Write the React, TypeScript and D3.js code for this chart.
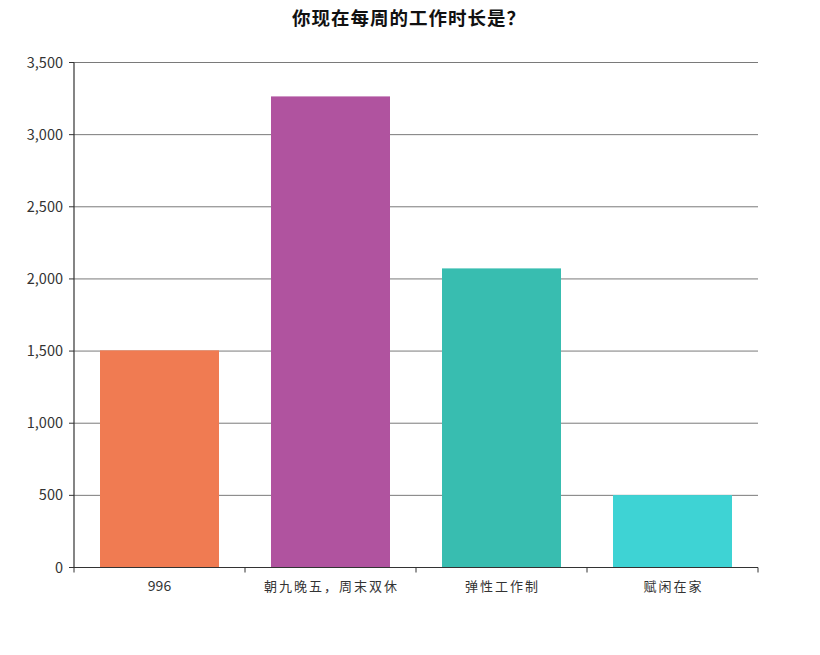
import React from "react";
import * as d3 from "d3";

const categories = ["996", "朝九晚五，周末双休", "弹性工作制", "赋闲在家"];
const values = [1505, 3265, 2073, 502];
const colors = ["#F07B52", "#B0539F", "#38BDB0", "#3ED3D4"];
const yTicks = [0, 500, 1000, 1500, 2000, 2500, 3000, 3500];
const title = "你现在每周的工作时长是？";

export default function App() {
  const W = 820, H = 655;
  const left = 74, right = 758, top = 62.5, bottom = 567.5;
  const x = d3.scaleBand<string>().domain(categories).range([left, right]).paddingInner(0.3).paddingOuter(0.15);
  const y = d3.scaleLinear().domain([0, 3500]).range([bottom, top]);
  const fmt = d3.format(",");
  const font = "'Noto Sans CJK SC', 'Noto Sans', sans-serif";
  const step = (right - left) / categories.length;
  return (
    <svg width={W} height={H} style={{ position: "absolute", left: 0, top: 0, background: "#fff" }} fontFamily={font}>
      <text x={409} y={25} textAnchor="middle" fontSize={18.5} fontWeight="bold" letterSpacing={1} fill="#111">{title}</text>
      {yTicks.map((t) => (
        <g key={t}>
          {t > 0 && <line x1={left} x2={right} y1={y(t)} y2={y(t)} stroke="#7a7a7a" strokeWidth={1} />}
          <line x1={left - 5} x2={left} y1={y(t)} y2={y(t)} stroke="#333" strokeWidth={1} />
          <text x={left - 11} y={y(t)} dy="0.35em" textAnchor="end" fontSize={14.5} fill="#333">{fmt(t)}</text>
        </g>
      ))}
      {categories.map((c, i) => (
        <rect key={c} x={left + step * i + (step - 119) / 2} y={y(values[i])} width={119} height={bottom - y(values[i])} fill={colors[i]} />
      ))}
      <line x1={left} x2={left} y1={top} y2={bottom} stroke="#333" strokeWidth={1.2} />
      <line x1={left} x2={right} y1={bottom} y2={bottom} stroke="#333" strokeWidth={1.2} />
      {d3.range(categories.length + 1).map((i) => (
        <line key={i} x1={left + step * i} x2={left + step * i} y1={bottom} y2={bottom + 5} stroke="#333" strokeWidth={1} />
      ))}
      {categories.map((c, i) => {
        const cjk = /[^\x00-\x7f]/.test(c);
        return (
          <text key={c} x={(x(c) as number) + x.bandwidth() / 2 + (cjk ? 1 : 0)} y={591} textAnchor="middle"
            fontSize={cjk ? 13 : 14} letterSpacing={cjk ? 2 : 0} fill="#333">{c}</text>
        );
      })}
    </svg>
  );
}
